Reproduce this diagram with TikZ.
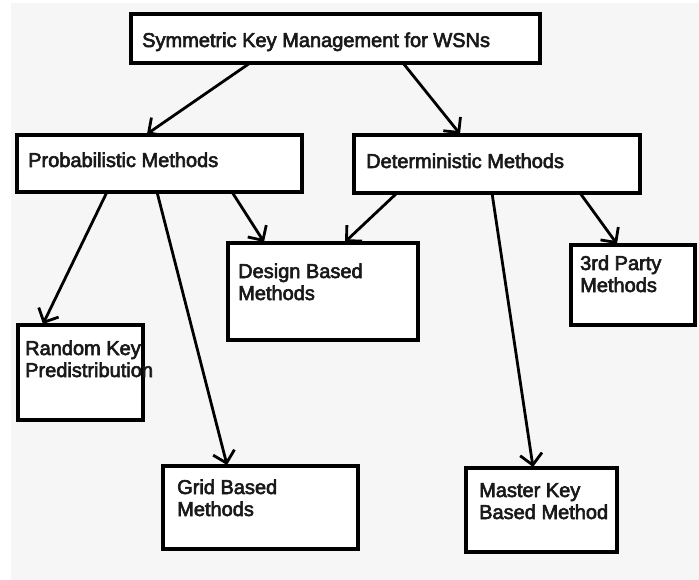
\documentclass[tikz,border=0pt]{standalone}
\usepackage{fontspec}
\newfontfamily\labfont[FakeBold=3]{Liberation Sans}
\usetikzlibrary{arrows.meta}
\definecolor{bgc}{HTML}{F6F6F6}
\tikzset{
  box/.style={draw=black, line width=3.2pt, fill=white},
  lbl/.style={anchor=base west, inner sep=0pt, align=left, font=\labfont\fontsize{20}{22}\selectfont, text=black!90},
  conn/.style={draw=black, line width=2.8pt, -{Straight Barb[length=11pt,width=22pt,line width=2.8pt]}}
}
\begin{document}
\begin{tikzpicture}[x=1pt,y=-1pt]
\useasboundingbox (0,0) rectangle (699,580);
\fill[white] (0,0) rectangle (699,580);
\fill[bgc] (11,3) rectangle (699,580);
% boxes
\draw[box] (131,14) rectangle (540,63);
\draw[box] (17,135) rectangle (302,192);
\draw[box] (354,135) rectangle (640,193);
\draw[box] (228,243) rectangle (418,340);
\draw[box] (571,245) rectangle (695,325);
\draw[box] (18,325) rectangle (143,420);
\draw[box] (163,466) rectangle (358,549);
\draw[box] (466,468) rectangle (617,552);
% texts (multi-line: anchor is the baseline of the last line)
\node[lbl] (ttop) at (142,47) {Symmetric Key Management for WSNs};
\node[lbl] (tprob) at (28,167) {Probabilistic Methods};
\node[lbl] (tdet) at (366,168) {Deterministic Methods};
\node[lbl] (tdes) at (238,300) {Design Based\\Methods};
\node[lbl] (tthird) at (580,292) {3rd Party\\Methods};
\node[lbl] (trand) at (25,377) {Random Key\\Predistribution};
\node[lbl] (tgrid) at (177,516) {Grid Based\\Methods};
\node[lbl] (tmast) at (479,519) {Master Key\\Based Method};
% connector end points
\coordinate (a1) at (250,63);   \coordinate (b1) at (147,134);
\coordinate (a2) at (403,63);   \coordinate (b2) at (460,134);
\coordinate (a3) at (107,192);  \coordinate (b3) at (43,324);
\coordinate (a4) at (157,192);  \coordinate (b4) at (227,465);
\coordinate (a5) at (232,192);  \coordinate (b5) at (264,242);
\coordinate (a6) at (397,193);  \coordinate (b6) at (345,242);
\coordinate (a7) at (492,193);  \coordinate (b7) at (533,467);
\coordinate (a8) at (580,193);  \coordinate (b8) at (617,244);
\draw[conn] (a1) -- (b1);
\draw[conn] (a2) -- (b2);
\draw[conn] (a3) -- (b3);
\draw[conn] (a4) -- (b4);
\draw[conn] (a5) -- (b5);
\draw[conn] (a6) -- (b6);
\draw[conn] (a7) -- (b7);
\draw[conn] (a8) -- (b8);
\end{tikzpicture}
\end{document}
